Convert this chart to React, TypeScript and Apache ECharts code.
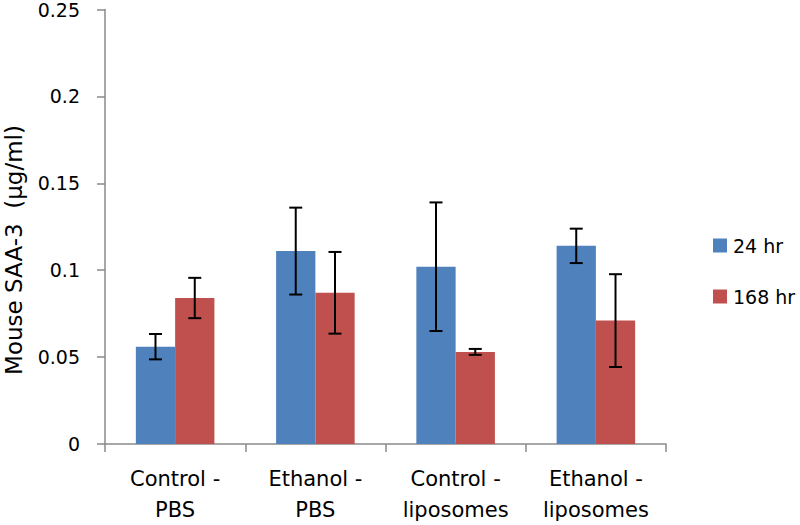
import React, { useEffect, useRef } from "react";
import * as echarts from "echarts";

const categories = ["Control -\nPBS", "Ethanol -\nPBS", "Control -\nliposomes", "Ethanol -\nliposomes"];
const seriesNames = ["24 hr", "168 hr"];
const values24 = [0.056, 0.111, 0.102, 0.114];
const values168 = [0.084, 0.087, 0.053, 0.071];
const err24 = [0.0073, 0.025, 0.037, 0.0099];
const err168 = [0.0116, 0.0235, 0.0017, 0.0267];
const yTicks = [0, 0.05, 0.1, 0.15, 0.2, 0.25];
const yAxisTitle = "Mouse SAA-3  (μg/ml)";

const FONT = "'DejaVu Sans', sans-serif";

function errorSeries(values: number[], errs: number[], side: number) {
  return {
    type: "custom",
    name: "err" + side,
    silent: true,
    z: 10,
    data: values.map((v, i) => [i, v - errs[i], v + errs[i]]),
    renderItem: (params: any, api: any) => {
      const idx = api.value(0);
      const lo = api.coord([idx, api.value(1)]);
      const hi = api.coord([idx, api.value(2)]);
      const catW = api.size([1, 0])[0];
      const barW = catW * 0.28;
      const x = lo[0] + side * barW / 2;
      const cap = 6.5;
      const style = { stroke: "#000", lineWidth: 2 };
      return {
        type: "group",
        children: [
          { type: "line", shape: { x1: x, y1: lo[1], x2: x, y2: hi[1] }, style },
          { type: "line", shape: { x1: x - cap, y1: lo[1], x2: x + cap, y2: lo[1] }, style },
          { type: "line", shape: { x1: x - cap, y1: hi[1], x2: x + cap, y2: hi[1] }, style },
        ],
      };
    },
  };
}

export default function App() {
  const ref = useRef<HTMLDivElement>(null);
  useEffect(() => {
    const chart = echarts.init(ref.current!, null, { renderer: "svg" });
    chart.setOption({
      animation: false,
      backgroundColor: "#fff",
      grid: { left: 105, right: 134, top: 7, bottom: 78 },
      legend: {
        orient: "vertical",
        left: 708,
        top: 231,
        itemWidth: 14,
        itemHeight: 14,
        itemGap: 32,
        icon: "rect",
        data: seriesNames,
        textStyle: { fontFamily: FONT, fontSize: 19, lineHeight: 14, color: "#000", padding: [0, 0, 0, 1] },
      },
      graphic: [
        {
          type: "text",
          x: 14,
          y: 250,
          rotation: Math.PI / 2,
          style: {
            text: yAxisTitle,
            fontFamily: FONT,
            fontSize: 23,
            fill: "#000",
            textAlign: "center",
            textVerticalAlign: "middle",
          },
        },
      ],
      xAxis: {
        type: "category",
        data: categories,
        axisLine: { lineStyle: { color: "#8a8a8a", width: 1.5 } },
        axisTick: { show: true, length: 8, alignWithLabel: false, lineStyle: { color: "#8a8a8a", width: 1.5 } },
        axisLabel: {
          fontFamily: FONT,
          fontSize: 21,
          color: "#000",
          lineHeight: 31,
          margin: 19,
          interval: 0,
        },
      },
      yAxis: {
        type: "value",
        min: yTicks[0],
        max: yTicks[yTicks.length - 1],
        interval: 0.05,
        axisLine: { show: true, lineStyle: { color: "#8a8a8a", width: 1.5 } },
        axisTick: { show: true, length: 8, lineStyle: { color: "#8a8a8a", width: 1.5 } },
        splitLine: { show: false },
        axisLabel: {
          fontFamily: FONT,
          fontSize: 19,
          lineHeight: 14,
          padding: [5, 0, 0, 0],
          color: "#000",
          margin: 25,
          formatter: (v: number) => String(Number(v.toFixed(2))),
        },
      },
      series: [
        {
          name: seriesNames[0],
          type: "bar",
          data: values24,
          barWidth: "28%",
          barGap: "0%",
          itemStyle: { color: "#4F81BD" },
        },
        {
          name: seriesNames[1],
          type: "bar",
          data: values168,
          barWidth: "28%",
          barGap: "0%",
          itemStyle: { color: "#C0504D" },
        },
        errorSeries(values24, err24, -1),
        errorSeries(values168, err168, 1),
      ],
    });
    return () => chart.dispose();
  }, []);
  return (
    <div
      ref={ref}
      style={{ position: "fixed", left: 0, top: 0, width: 800, height: 525 }}
    />
  );
}
